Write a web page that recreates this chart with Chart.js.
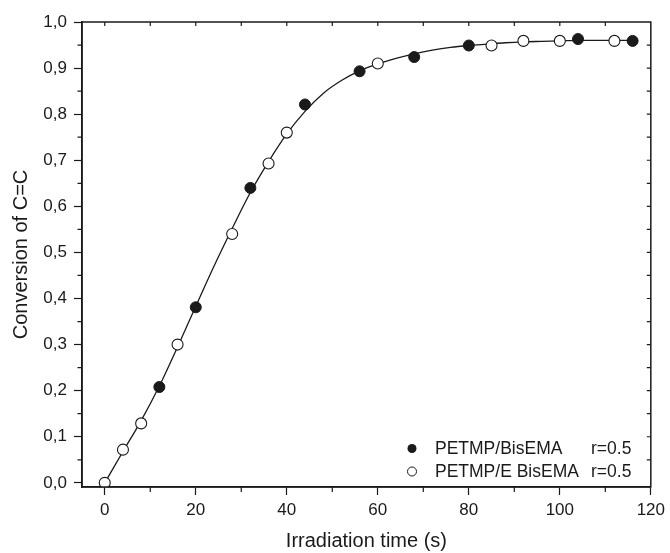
<!DOCTYPE html>
<html>
<head>
<meta charset="utf-8">
<script src="https://cdn.jsdelivr.net/npm/chart.js@4.4.1/dist/chart.umd.min.js"></script>
<style>
  html, body { margin: 0; padding: 0; background: #fff; }
  #wrap { width: 670px; height: 553px; }
</style>
</head>
<body>
<div id="wrap"><canvas id="conv" width="670" height="553"></canvas></div>
<script>
  // PETMP/BisEMA (filled)
  const filledX = [12, 20, 32, 44, 56, 68, 80, 104, 116];
  const filledY = [0.208, 0.381, 0.640, 0.821, 0.893, 0.924, 0.949, 0.963, 0.959];

  // PETMP/E BisEMA (open)
  const openX = [0, 4, 8, 16, 28, 36, 40, 60, 85, 92, 100, 112];
  const openY = [0.0, 0.072, 0.129, 0.300, 0.540, 0.693, 0.760, 0.910, 0.949, 0.959, 0.959, 0.959];

  // fitted curve
  const fitX = [0, 4, 8, 12, 16, 20, 24, 28, 32, 36, 40, 44, 48, 52, 56, 60, 64, 68, 72, 76, 80, 84, 88, 92, 96, 100, 104, 108, 112, 116];
  const fitY = [0.0, 0.068, 0.135, 0.210, 0.295, 0.383, 0.470, 0.552, 0.630, 0.697, 0.757, 0.806, 0.845, 0.873, 0.894, 0.909, 0.921, 0.931, 0.939, 0.945, 0.949, 0.952, 0.955, 0.957, 0.958, 0.959, 0.960, 0.960, 0.960, 0.960];

  const xMajor = [0, 20, 40, 60, 80, 100, 120];
  const xMinor = [10, 30, 50, 70, 90, 110];
  const yMajor = [0, 0.1, 0.2, 0.3, 0.4, 0.5, 0.6, 0.7, 0.8, 0.9, 1.0];
  const yMinor = [0.05, 0.15, 0.25, 0.35, 0.45, 0.55, 0.65, 0.75, 0.85, 0.95];
  const yTickLabels = ["0,0", "0,1", "0,2", "0,3", "0,4", "0,5", "0,6", "0,7", "0,8", "0,9", "1,0"];

  const legendNames = ["PETMP/BisEMA", "PETMP/E BisEMA"];
  const legendR = ["r=0.5", "r=0.5"];

  const INK = "#1a1a1a";
  const FONT = "'Liberation Sans', Arial, sans-serif";

  function pts(xs, ys) {
    return xs.map((x, i) => ({ x: x, y: ys[i] }));
  }

  // box border, minor ticks, inner ticks and the legend
  const frame = {
    id: "frame",
    afterDatasetsDraw(chart) {
      const ctx = chart.ctx;
      const a = chart.chartArea;
      const xs = chart.scales.x, ys = chart.scales.y;
      ctx.save();
      ctx.strokeStyle = INK;
      ctx.lineWidth = 1.5;
      ctx.strokeRect(a.left, a.top, a.right - a.left, a.bottom - a.top);

      ctx.lineWidth = 1.2;
      ctx.beginPath();
      xMinor.forEach(v => {
        const px = xs.getPixelForValue(v);
        ctx.moveTo(px, a.bottom); ctx.lineTo(px, a.bottom + 5);
      });
      yMinor.forEach(v => {
        const py = ys.getPixelForValue(v);
        ctx.moveTo(a.left, py); ctx.lineTo(a.left - 4.5, py);
      });
      xMajor.concat(xMinor).forEach(v => {
        if (v < 0 || v >= 120) return;
        const px = xs.getPixelForValue(v);
        ctx.moveTo(px, a.top); ctx.lineTo(px, a.top + 4);
      });
      yMajor.concat(yMinor).forEach(v => {
        if (v <= 0 || v >= 1) return;
        const py = ys.getPixelForValue(v);
        ctx.moveTo(a.right, py); ctx.lineTo(a.right - 4, py);
      });
      ctx.stroke();

      // legend
      ctx.font = "17.5px " + FONT;
      ctx.fillStyle = INK;
      ctx.textBaseline = "middle";
      const rows = [448.5, 471.5];
      rows.forEach((ry, i) => {
        ctx.beginPath();
        ctx.arc(412, ry, 4.5, 0, Math.PI * 2);
        if (i === 0) {
          ctx.fillStyle = INK; ctx.fill();
        } else {
          ctx.fillStyle = "#fff"; ctx.fill();
          ctx.lineWidth = 1; ctx.strokeStyle = INK; ctx.stroke();
        }
        ctx.fillStyle = INK;
        ctx.fillText(legendNames[i], 435, ry + 1);
        ctx.fillText(legendR[i], 591, ry + 1);
      });
      ctx.restore();
    }
  };

  const ctx = document.getElementById("conv").getContext("2d");
  new Chart(ctx, {
    type: "scatter",
    data: {
      datasets: [
        {
          label: legendNames[0],
          data: pts(filledX, filledY),
          pointStyle: "circle",
          pointRadius: 5.5,
          pointBackgroundColor: INK,
          pointBorderColor: INK,
          pointBorderWidth: 1,
          showLine: false
        },
        {
          label: legendNames[1],
          data: pts(openX, openY),
          pointStyle: "circle",
          pointRadius: 5.5,
          pointBackgroundColor: "#fff",
          pointBorderColor: INK,
          pointBorderWidth: 1.1,
          showLine: false
        },
        {
          label: "fit",
          data: pts(fitX, fitY),
          showLine: true,
          pointRadius: 0,
          borderColor: INK,
          borderWidth: 1.3,
          cubicInterpolationMode: "monotone",
          fill: false
        }
      ]
    },
    options: {
      responsive: false,
      animation: false,
      devicePixelRatio: 1,
      layout: { padding: { left: 0, right: 17, top: 22, bottom: 0 } },
      plugins: {
        legend: { display: false },
        tooltip: { enabled: false }
      },
      scales: {
        x: {
          type: "linear",
          min: -5,
          max: 120,
          afterBuildTicks: s => { s.ticks = xMajor.map(v => ({ value: v })); },
          afterFit: s => { s.height = 66; },
          grid: { display: true, drawOnChartArea: false, drawTicks: true, tickLength: 8, tickWidth: 1.2, tickColor: INK },
          border: { display: true, color: INK, width: 1.5 },
          ticks: { color: INK, font: { family: FONT, size: 17 }, padding: 5, maxRotation: 0 },
          title: { display: true, text: "Irradiation time (s)", color: INK, font: { family: FONT, size: 20 }, padding: { top: 5, bottom: 0 } }
        },
        y: {
          type: "linear",
          min: -0.009,
          max: 1.0,
          afterBuildTicks: s => { s.ticks = yMajor.map(v => ({ value: v })); },
          afterFit: s => { s.width = 82; },
          grid: { display: true, drawOnChartArea: false, drawTicks: true, tickLength: 8, tickWidth: 1.2, tickColor: INK },
          border: { display: true, color: INK, width: 1.5 },
          ticks: {
            color: INK,
            font: { family: FONT, size: 17 },
            padding: 7,
            callback: (v, i) => yTickLabels[i]
          },
          title: { display: true, text: "Conversion of C=C", color: INK, font: { family: FONT, size: 20 }, padding: { top: 9, bottom: 0 } }
        }
      }
    },
    plugins: [frame]
  });
</script>
</body>
</html>
